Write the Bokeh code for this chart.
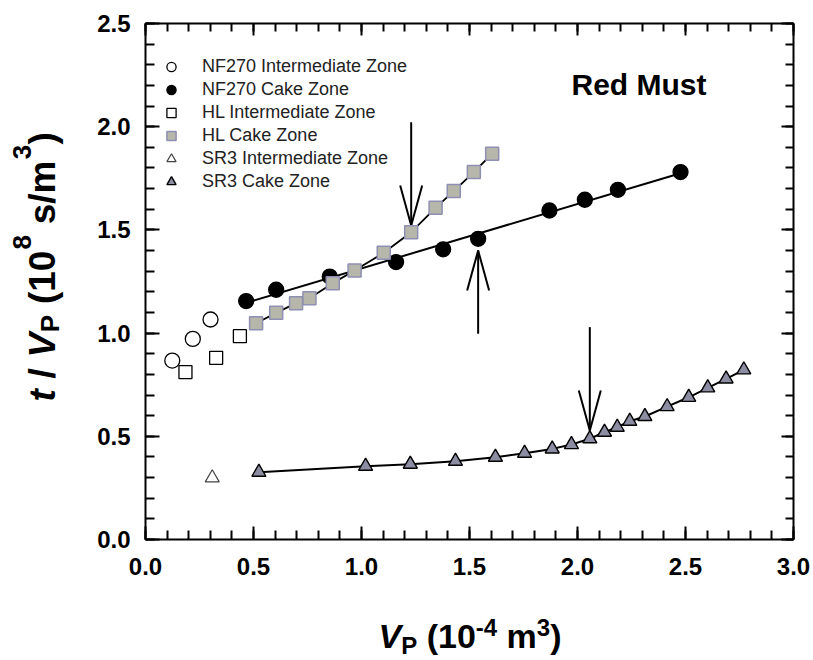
import numpy as np
from bokeh.plotting import figure
from bokeh.models import (Range1d, LinearAxis, SingleIntervalTicker, PrintfTickFormatter,
                          Label, Legend, LegendItem)
from bokeh.embed import file_html
from bokeh.resources import INLINE

# ---------------- data ----------------
NF270_INT_X = [0.124, 0.219, 0.301]
NF270_INT_Y = [0.867, 0.972, 1.066]
NF270_CAKE_X = [0.466, 0.605, 0.853, 1.160, 1.378, 1.540, 1.870, 2.034, 2.187, 2.477]
NF270_CAKE_Y = [1.155, 1.210, 1.274, 1.344, 1.406, 1.457, 1.594, 1.646, 1.694, 1.780]

HL_INT_X = [0.185, 0.327, 0.437]
HL_INT_Y = [0.811, 0.880, 0.985]
HL_CAKE_X = [0.512, 0.605, 0.697, 0.759, 0.867, 0.968, 1.103, 1.230, 1.343, 1.427, 1.520, 1.605]
HL_CAKE_Y = [1.048, 1.098, 1.145, 1.169, 1.242, 1.303, 1.389, 1.489, 1.607, 1.688, 1.780, 1.869]

SR3_INT_X = [0.309]
SR3_INT_Y = [0.299]
SR3_CAKE_X = [0.525, 1.019, 1.226, 1.435, 1.620, 1.755, 1.883, 1.972, 2.057, 2.125,
              2.184, 2.242, 2.312, 2.415, 2.515, 2.603, 2.688, 2.770]
SR3_CAKE_Y = [0.326, 0.355, 0.365, 0.379, 0.399, 0.418, 0.439, 0.460, 0.488, 0.520,
              0.544, 0.573, 0.596, 0.644, 0.689, 0.735, 0.778, 0.822]

# transition arrows: x, start y, tip y
ARROW_X = [1.230, 1.540, 2.057]
ARROW_FROM = [2.022, 0.997, 1.029]
ARROW_TO = [1.521, 1.400, 0.528]

LEGEND_LABELS = ["NF270 Intermediate Zone", "NF270 Cake Zone", "HL Intermediate Zone",
                 "HL Cake Zone", "SR3 Intermediate Zone", "SR3 Cake Zone"]
TITLE_TEXT = "Red Must"

# ---------------- layout ----------------
W, H = 813, 660
FL, FR, FT, FB = 145, 20, 23, 121          # where the axes box sits on the canvas
X0, X1, Y0, Y1 = 0.0, 3.0, 0.0, 2.5        # axes extents
FW = W - FL - FR
FH = H - FT - FB
FONT = "Liberation Sans"
BASE_SHIFT = 0.36                          # label baseline correction (em)


def dx(px):
    return X0 + (px - FL) / FW * (X1 - X0)


def dy(py):
    return Y0 + (H - FB - py) / FH * (Y1 - Y0)


# frame covers the whole canvas; axes are drawn at fixed locations
p = figure(width=W, height=H, x_range=Range1d(dx(0), dx(W)), y_range=Range1d(dy(H), dy(0)),
           output_backend="svg", toolbar_location=None,
           x_axis_location=None, y_axis_location=None,
           min_border=0, min_border_left=0, min_border_right=0,
           min_border_top=0, min_border_bottom=0)
p.outline_line_color = None
p.background_fill_color = "white"
p.border_fill_color = "white"
for g in list(p.grid):
    g.visible = False
p.center = [r for r in p.center if r.__class__.__name__ != "Grid"]


def make_axis(loc, bounds, tin, tmin, labels, standoff=16):
    ax = LinearAxis(fixed_location=loc, bounds=bounds)
    ax.ticker = SingleIntervalTicker(interval=0.5, num_minor_ticks=5)
    ax.axis_line_width = 2
    ax.axis_line_color = "black"
    ax.major_tick_in = tin
    ax.major_tick_out = 0
    ax.minor_tick_in = tmin
    ax.minor_tick_out = 0
    ax.major_tick_line_width = 2
    ax.minor_tick_line_width = 2
    ax.major_tick_line_color = "black"
    ax.minor_tick_line_color = "black"
    if labels:
        ax.formatter = PrintfTickFormatter(format="%.1f")
        ax.major_label_text_font = FONT
        ax.major_label_text_font_style = "bold"
        ax.major_label_text_font_size = "24px"
        ax.major_label_text_color = "black"
        ax.major_label_standoff = standoff
    else:
        ax.major_label_text_font_size = "0px"
        ax.major_label_text_alpha = 0
        ax.major_label_standoff = 0
    return ax


p.add_layout(make_axis(Y0, (X0, X1), 13, 9, True, 18), "below")
p.add_layout(make_axis(X0, (Y0, Y1), 14, 9, True, 15), "left")
p.add_layout(make_axis(Y1, (X0, X1), 12, 8, False), "above")
p.add_layout(make_axis(X1, (Y0, Y1), 12, 8, False), "right")

# ---------------- lines ----------------
k, b = np.polyfit(NF270_CAKE_X, NF270_CAKE_Y, 1)
fx = [min(NF270_CAKE_X), max(NF270_CAKE_X)]
p.line(fx, [k * v + b for v in fx], line_color="black", line_width=2)
p.line(HL_CAKE_X, HL_CAKE_Y, line_color="black", line_width=1.8)
p.line(SR3_CAKE_X, SR3_CAKE_Y, line_color="black", line_width=2)

# ---------------- arrows ----------------
hl = 40 / FH * (Y1 - Y0)
hw = 11 / FW * (X1 - X0)
p.segment(x0=ARROW_X, y0=ARROW_FROM, x1=ARROW_X, y1=ARROW_TO, line_color="black", line_width=2)
wx0, wy0, wx1, wy1 = [], [], [], []
for ax_, a0, a1 in zip(ARROW_X, ARROW_FROM, ARROW_TO):
    s = 1 if a1 > a0 else -1
    for side in (-1, 1):
        wx0.append(ax_ + side * hw)
        wy0.append(a1 - s * hl)
        wx1.append(ax_)
        wy1.append(a1)
p.segment(x0=wx0, y0=wy0, x1=wx1, y1=wy1, line_color="black", line_width=2)

# ---------------- markers ----------------
r1 = p.scatter(NF270_INT_X, NF270_INT_Y, marker="circle", size=15,
               fill_color="white", line_color="black", line_width=1.3)
r2 = p.scatter(NF270_CAKE_X, NF270_CAKE_Y, marker="circle", size=15,
               fill_color="black", line_color="black", line_width=1.3)
r3 = p.scatter(HL_INT_X, HL_INT_Y, marker="square", size=13,
               fill_color="white", line_color="black", line_width=1.3)
r4 = p.scatter(HL_CAKE_X, HL_CAKE_Y, marker="square", size=13,
               fill_color="#b6b6aa", line_color="#8f8fb3", line_width=1.5)
r5 = p.scatter(SR3_INT_X, SR3_INT_Y, marker="triangle", size=14,
               fill_color="white", line_color="#444444", line_width=1.2)
r6 = p.scatter(SR3_CAKE_X, SR3_CAKE_Y, marker="triangle", size=14,
               fill_color="#8c8ca2", line_color="black", line_width=1.4)

items = [LegendItem(label=lab, renderers=[r]) for lab, r in
         zip(LEGEND_LABELS, [r1, r2, r3, r4, r5, r6])]
legend = Legend(items=items, location=(159, 467), padding=0, margin=0, spacing=0,
                label_height=23, glyph_height=23, glyph_width=24, label_standoff=19,
                border_line_alpha=0, background_fill_alpha=0,
                label_text_font=FONT, label_text_font_size="18px",
                label_text_color="#222222")
p.add_layout(legend)

p.add_layout(Label(x=dx(571), y=dy(95 - BASE_SHIFT * 30), text=TITLE_TEXT, text_font=FONT,
                   text_font_style="bold", text_font_size="30px",
                   text_baseline="alphabetic", text_align="left", text_color="black"))

# ---------------- rich axis titles ----------------
WID = {" ": 278, "(": 333, ")": 333, "/": 278, "-": 333, "V": 667, "P": 667,
       "m": 889, "s": 556, "t": 333}
for d in "0123456789":
    WID[d] = 556


def adv(s, fs, spread=1.0):
    return sum(WID[c] for c in s) * fs / 1000.0 * spread


def rich(pieces, start, base, vertical, spread=1.0):
    cur = start
    for text, fs, style, off in pieces:
        stripped = text.strip()
        lead = len(text) - len(text.lstrip())
        lead_w = adv(" " * lead, fs, spread)
        cur_t = cur + lead_w if not vertical else cur - lead_w
        shift = BASE_SHIFT * fs
        if stripped:
            if vertical:
                lab = Label(x=dx(base + off - shift), y=dy(cur_t),
                            text=stripped, angle=np.pi / 2)
            else:
                lab = Label(x=dx(cur_t), y=dy(base + off - shift), text=stripped)
            lab.text_font = FONT
            lab.text_font_style = style
            lab.text_font_size = f"{fs}px"
            lab.text_align = "left"
            lab.text_baseline = "alphabetic"
            lab.text_color = "black"
            p.add_layout(lab)
        w = adv(text, fs, spread)
        cur = cur + w if not vertical else cur - w


XT = [("V", 34, "bold italic", 0), ("P", 24, "bold", 6), (" (10", 34, "bold", 0),
      ("-4", 24, "bold", -12), (" m", 34, "bold", 0), ("3", 24, "bold", -12),
      (")", 34, "bold", 0)]
xt_total = sum(adv(t, f) for t, f, _, _ in XT)
rich(XT, 469.5 - xt_total / 2, 648, False)

YT = [("t", 37, "bold italic", 0), (" / ", 37, "bold", 0), ("V", 37, "bold italic", 0),
      ("P", 26, "bold", 4), (" (10", 37, "bold", 0), ("8", 26, "bold", -24),
      (" s/m", 37, "bold", 0), ("3", 26, "bold", -24), (")", 37, "bold", 0)]
rich(YT, 401, 55, True, spread=1.02)

open("out.html", "w").write(file_html(p, INLINE))
